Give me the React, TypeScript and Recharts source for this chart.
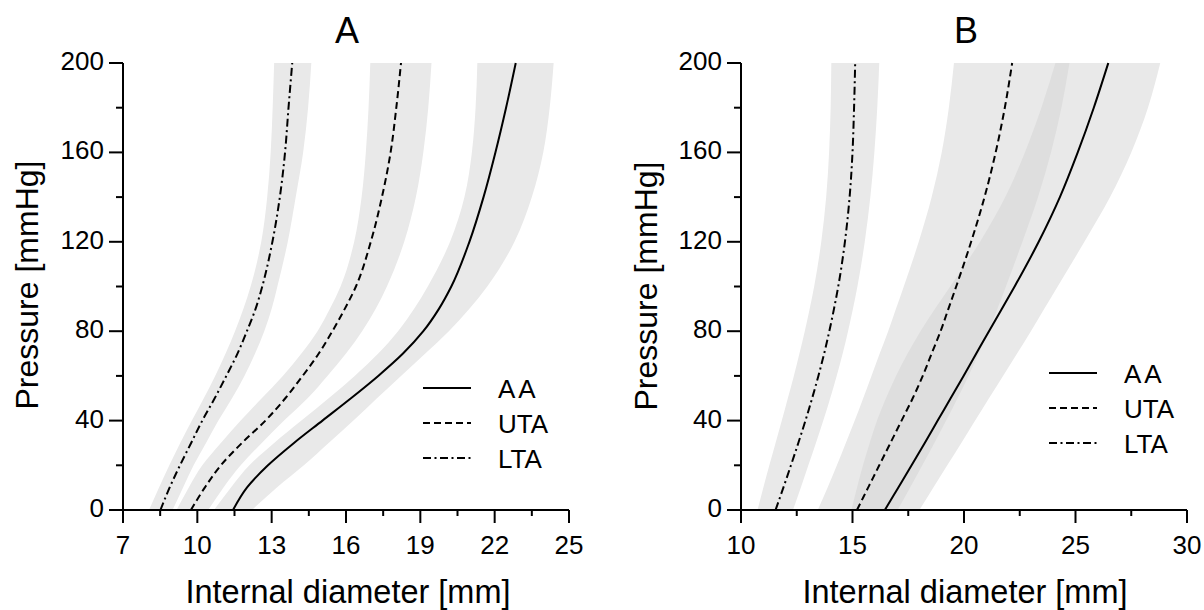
import React from 'react'
import { ComposedChart, Area, Line, XAxis, YAxis, Legend } from 'recharts'

const FONT = '"Liberation Sans", Arial, Helvetica, sans-serif'

// pressure levels (mmHg), shared by both panels
const pressure = [0, 10, 20, 30, 40, 50, 60, 70, 80, 90, 100, 120, 140, 160, 180, 200]
const pressureTicks = [0, 40, 80, 120, 160, 200]
const pressureMinor = [20, 60, 100, 140, 180]

// panel A – internal diameter (mm)
const aaA = [11.44, 12.0, 12.85, 13.9, 15.05, 16.2, 17.3, 18.3, 19.12, 19.75, 20.25, 20.98, 21.55, 22.03, 22.46, 22.85]
const aaALow = [10.67, 11.35, 12.1, 13.1, 14.2, 15.3, 16.35, 17.3, 18.1, 18.75, 19.3, 20.2, 20.78, 21.08, 21.23, 21.3]
const aaAHigh = [12.2, 13.2, 14.3, 15.3, 16.3, 17.25, 18.22, 19.2, 20.15, 20.98, 21.7, 22.8, 23.5, 23.96, 24.22, 24.38]
const utaA = [9.74, 10.3, 10.95, 11.8, 12.75, 13.55, 14.25, 14.9, 15.45, 15.95, 16.4, 17.0, 17.45, 17.8, 18.03, 18.22]
const utaALow = [9.16, 9.65, 10.2, 10.95, 11.75, 12.6, 13.45, 14.2, 14.85, 15.35, 15.78, 16.33, 16.63, 16.8, 16.91, 16.98]
const utaAHigh = [10.44, 11.05, 11.75, 12.6, 13.5, 14.45, 15.25, 16.0, 16.65, 17.2, 17.65, 18.35, 18.82, 19.12, 19.32, 19.45]
const ltaA = [8.51, 8.88, 9.3, 9.75, 10.2, 10.7, 11.17, 11.62, 12.0, 12.35, 12.62, 13.03, 13.33, 13.54, 13.68, 13.83]
const ltaALow = [8.05, 8.45, 8.87, 9.31, 9.78, 10.26, 10.72, 11.14, 11.52, 11.86, 12.15, 12.58, 12.82, 12.96, 13.04, 13.1]
const ltaAHigh = [9.0, 9.42, 9.85, 10.35, 10.85, 11.4, 11.9, 12.33, 12.7, 13.0, 13.23, 13.65, 13.97, 14.27, 14.47, 14.6]

// panel B – internal diameter (mm)
const aaB = [16.45, 17.05, 17.65, 18.24, 18.82, 19.4, 19.98, 20.55, 21.12, 21.7, 22.27, 23.35, 24.3, 25.1, 25.82, 26.47]
const aaBLow = [14.95, 15.2, 15.47, 15.77, 16.1, 16.5, 16.95, 17.47, 18.05, 18.7, 19.38, 20.72, 21.85, 22.73, 23.47, 24.1]
const aaBHigh = [18.0, 18.62, 19.25, 19.88, 20.5, 21.12, 21.75, 22.38, 23.0, 23.6, 24.2, 25.4, 26.55, 27.5, 28.25, 28.8]
const utaB = [15.2, 15.7, 16.2, 16.7, 17.2, 17.7, 18.15, 18.55, 18.95, 19.3, 19.65, 20.32, 20.92, 21.42, 21.83, 22.16]
const utaBLow = [13.44, 13.88, 14.3, 14.7, 15.1, 15.48, 15.85, 16.22, 16.6, 16.95, 17.3, 17.97, 18.55, 19.0, 19.32, 19.55]
const utaBHigh = [17.02, 17.58, 18.13, 18.67, 19.2, 19.71, 20.2, 20.66, 21.1, 21.5, 21.88, 22.62, 23.32, 23.9, 24.37, 24.73]
const ltaB = [11.55, 11.9, 12.24, 12.57, 12.89, 13.19, 13.47, 13.73, 13.96, 14.17, 14.36, 14.66, 14.87, 15.0, 15.07, 15.12]
const ltaBLow = [10.74, 11.0, 11.27, 11.55, 11.83, 12.1, 12.37, 12.62, 12.86, 13.08, 13.28, 13.6, 13.82, 13.95, 14.02, 14.05]
const ltaBHigh = [12.33, 12.68, 13.02, 13.36, 13.69, 14.0, 14.29, 14.56, 14.8, 15.02, 15.22, 15.55, 15.8, 15.98, 16.11, 16.2]

const diamTicksA = [7, 10, 13, 16, 19, 22, 25]
const diamMinorA = [8.5, 11.5, 14.5, 17.5, 20.5, 23.5]
const diamTicksB = [10, 15, 20, 25, 30]
const diamMinorB = [12.5, 17.5, 22.5, 27.5]

const seriesNames = ['AA', 'UTA', 'LTA']

const rowsA = pressure.map((p, i) => ({
  p,
  AA: aaA[i],
  UTA: utaA[i],
  LTA: ltaA[i],
  aaBand: [aaALow[i], aaAHigh[i]],
  utaBand: [utaALow[i], utaAHigh[i]],
  ltaBand: [ltaALow[i], ltaAHigh[i]],
}))

const rowsB = pressure.map((p, i) => ({
  p,
  AA: aaB[i],
  UTA: utaB[i],
  LTA: ltaB[i],
  aaBand: [aaBLow[i], aaBHigh[i]],
  utaBand: [utaBLow[i], utaBHigh[i]],
  ltaBand: [ltaBLow[i], ltaBHigh[i]],
  overlap: [aaBLow[i], utaBHigh[i]],
}))

const dash: Record<string, string | undefined> = { AA: undefined, UTA: '7 4', LTA: '8 3.5 2 3.5' }

function makeYTick(major: number[]) {
  return (props: any) => {
    const { x, y, payload } = props
    const isMajor = major.includes(payload.value)
    return (
      <g>
        <line x1={x} x2={x - (isMajor ? 14 : 7)} y1={y} y2={y} stroke="#000" strokeWidth={2} />
        {isMajor && (
          <text x={x - 19} y={y + 7} textAnchor="end" fontSize={26} fontFamily={FONT} fill="#000">
            {payload.value}
          </text>
        )}
      </g>
    )
  }
}

function makeXTick(major: number[]) {
  return (props: any) => {
    const { x, y, payload } = props
    const isMajor = major.includes(payload.value)
    return (
      <g>
        <line x1={x} x2={x} y1={y} y2={y + (isMajor ? 13 : 6)} stroke="#000" strokeWidth={2} />
        {isMajor && (
          <text x={x} y={y + 44} textAnchor="middle" fontSize={26} fontFamily={FONT} fill="#000">
            {payload.value}
          </text>
        )}
      </g>
    )
  }
}

function LegendBox(props: any) {
  const items = (props.payload ?? [])
    .filter((e: any) => seriesNames.includes(e.value))
    .sort((a: any, b: any) => seriesNames.indexOf(a.value) - seriesNames.indexOf(b.value))
  return (
    <svg width={150} height={110} style={{ display: 'block', overflow: 'visible' }}>
      {items.map((e: any, i: number) => (
        <g key={e.value}>
          <line x1={3} x2={51} y1={20 + i * 35} y2={20 + i * 35} stroke="#000" strokeWidth={2} strokeDasharray={dash[e.value]} />
          <text x={78} y={30 + i * 35} fontSize={26} fontFamily={FONT} fill="#000" letterSpacing={e.value === 'AA' ? 3 : 0}>
            {e.value}
          </text>
        </g>
      ))}
    </svg>
  )
}

interface PanelProps {
  data: any[]
  domain: [number, number]
  major: number[]
  minor: number[]
  left: number
  legendLeft: number
  legendTop: number
  overlap?: boolean
}

function Panel({ data, domain, major, minor, left, legendLeft, legendTop, overlap }: PanelProps) {
  const band = { stroke: 'none', fill: '#e9e9e9', fillOpacity: 1, isAnimationActive: false, legendType: 'none' as const, dot: false, activeDot: false, type: 'monotone' as const }
  const line = { stroke: '#000', strokeWidth: 2, dot: false, activeDot: false, isAnimationActive: false, type: 'monotone' as const }
  return (
    <ComposedChart
      width={602}
      height={610}
      layout="vertical"
      data={data}
      margin={{ top: 63, right: 602 - left - 446, bottom: 99, left: left - 1 }}
    >
      <XAxis
        type="number"
        domain={domain}
        ticks={[...major, ...minor]}
        interval={0}
        height={1}
        tickSize={0}
        tickMargin={0}
        tickLine={false}
        axisLine={{ stroke: '#000', strokeWidth: 2 }}
        tick={makeXTick(major)}
        allowDataOverflow
      />
      <YAxis
        type="number"
        dataKey="p"
        domain={[0, 200]}
        reversed
        ticks={[...pressureTicks, ...pressureMinor]}
        interval={0}
        width={1}
        tickSize={0}
        tickMargin={0}
        tickLine={false}
        axisLine={{ stroke: '#000', strokeWidth: 2 }}
        tick={makeYTick(pressureTicks)}
      />
      <Area dataKey="ltaBand" {...band} />
      <Area dataKey="utaBand" {...band} />
      <Area dataKey="aaBand" {...band} />
      {overlap && <Area dataKey="overlap" {...band} fill="#dedede" />}
      <Line dataKey="AA" {...line} />
      <Line dataKey="UTA" {...line} strokeDasharray={dash.UTA} />
      <Line dataKey="LTA" {...line} strokeDasharray={dash.LTA} />
      <Legend
        layout="horizontal"
        verticalAlign="middle"
        align="center"
        content={LegendBox}
        wrapperStyle={{ left: legendLeft, top: legendTop, width: 150, height: 110 }}
      />
    </ComposedChart>
  )
}

export default function App() {
  return (
    <div style={{ position: 'absolute', left: 0, top: 0, width: 1204, height: 610, background: '#fff', fontFamily: FONT }}>
      <div style={{ position: 'absolute', left: 0, top: 0 }}>
        <Panel data={rowsA} domain={[7, 25]} major={diamTicksA} minor={diamMinorA} left={123} legendLeft={420} legendTop={368} />
      </div>
      <div style={{ position: 'absolute', left: 602, top: 0 }}>
        <Panel data={rowsB} domain={[10, 30]} major={diamTicksB} minor={diamMinorB} left={139} legendLeft={444} legendTop={353} overlap />
      </div>
      <svg width={1204} height={610} style={{ position: 'absolute', left: 0, top: 0, pointerEvents: 'none' }}>
        <g fontFamily={FONT} fill="#000">
          <text x={347} y={43} fontSize={36} textAnchor="middle">A</text>
          <text x={966} y={43} fontSize={36} textAnchor="middle">B</text>
          <text x={348} y={603} fontSize={32.5} textAnchor="middle">Internal diameter [mm]</text>
          <text x={965} y={603} fontSize={32.5} textAnchor="middle">Internal diameter [mm]</text>
          <text x={38} y={285} fontSize={32} textAnchor="middle" transform="rotate(-90 38 285)">Pressure [mmHg]</text>
          <text x={657} y={286} fontSize={32} textAnchor="middle" transform="rotate(-90 657 286)">Pressure [mmHg]</text>
        </g>
      </svg>
    </div>
  )
}
